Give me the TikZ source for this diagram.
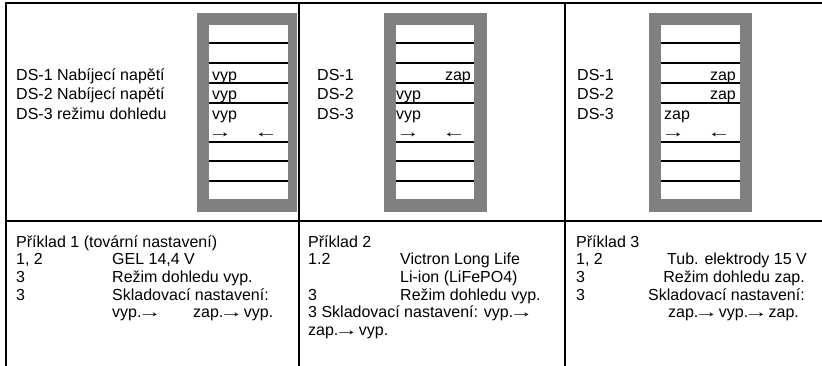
\documentclass[tikz,border=0pt]{standalone}
\usepackage{fontspec}
\usepackage{graphicx}
\setmainfont{Liberation Sans}
\newcommand{\rarr}{\makebox[1em][c]{\scalebox{1.5}[1]{→}}}
\newcommand{\larr}{\makebox[1em][c]{\scalebox{1.5}[1]{←}}}
\begin{document}
\begin{tikzpicture}[x=1pt,y=-1pt]
    \tikzstyle{txt}=[font=\fontsize{16}{18}\selectfont,inner sep=0pt,anchor=base west]
    \tikzstyle{txtr}=[txt,anchor=base east]
    \tikzstyle{grid}=[line width=2pt,black]
    \tikzstyle{rowline}=[line width=1.7pt,black]
    \useasboundingbox (0,0) rectangle (822,366);

    % table
    \draw[grid] (822,3) -- (5.8,3) -- (5.8,366);
    \draw[grid] (5.8,221) -- (822,221);
    \foreach \x in {299,564.5}
    \draw[grid] (\x,3) -- (\x,366);

    % switch blocks
    \foreach \a/\b/\c/\d in {197/209/288/297, 384/396/474/487, 649/661/740/752} {
    \fill[gray] (\a,13) rectangle (\d,212);
    \fill[white] (\b,25) rectangle (\c,199.5);
    \foreach \y in {43.3,63.3,83.3,102.7,141.7,161,181}
    \draw[rowline] (\b,\y) -- (\c,\y);
    }

    % top row
    \node[txt] (ds1-1) at (16,80.5) {DS-1 Nabíjecí napětí};
    \node[txt] (ds1-2) at (16,100) {DS-2 Nabíjecí napětí};
    \node[txt] (ds1-3) at (16,119.5) {DS-3 režimu dohledu};
    \foreach \x/\p in {317/2, 577/3}
    \foreach \k/\y in {1/80.5, 2/100, 3/119.5}
    \node[txt] (ds\p-\k) at (\x,\y) {DS-\k};

    \node[txt] (sw1-1) at (212,80.5) {vyp};
    \node[txt] (sw1-2) at (212,100) {vyp};
    \node[txt] (sw1-3) at (212,119.5) {vyp};
    \node[txtr] (sw2-1) at (471,80.5) {zap};
    \node[txt] (sw2-2) at (396,100) {vyp};
    \node[txt] (sw2-3) at (396,119.5) {vyp};
    \node[txtr] (sw3-1) at (736,80.5) {zap};
    \node[txtr] (sw3-2) at (736,100) {zap};
    \node[txt] (sw3-3) at (664,119.5) {zap};

    \foreach \p/\x in {1/212, 2/400, 3/665} {
    \node[txt] (on\p) at (\x,138) {\rarr};
    \node[txt] (off\p) at (\x+46,138) {\larr};
    }

    % bottom row
    \node[txt] (ex1) at (16,247.5) {Příklad 1 (tovární nastavení)};
    \node[txt] (ex1-a) at (16,265) {1, 2};
    \node[txt] (ex1-av) at (112,265) {GEL 14,4 V};
    \node[txt] (ex1-b) at (16,282.6) {3};
    \node[txt] (ex1-bv) at (112,282.6) {Režim dohledu vyp.};
    \node[txt] (ex1-c) at (16,300.2) {3};
    \node[txt] (ex1-cv) at (112,300.2) {Skladovací nastavení:};
    \node[txt] (ex1-d) at (112,317.8) {vyp.\rarr};
    \node[txt] (ex1-e) at (193,317.8) {zap.\rarr{} vyp.};

    \node[txt] (ex2) at (308,247.5) {Příklad 2};
    \node[txt] (ex2-a) at (308,265) {1.2};
    \node[txt] (ex2-av) at (400,265) {Victron Long Life};
    \node[txt] (ex2-aw) at (400,282.6) {Li-ion (LiFePO4)};
    \node[txt] (ex2-b) at (308,300.2) {3};
    \node[txt] (ex2-bv) at (400,300.2) {Režim dohledu vyp.};
    \node[txt] (ex2-c) at (308,317.8) {3 Skladovací nastavení: vyp.\rarr};
    \node[txt] (ex2-d) at (308,335.4) {zap.\rarr{} vyp.};

    \node[txt] (ex3) at (576,247.5) {Příklad 3};
    \node[txt] (ex3-a) at (576,265) {1, 2};
    \node[txtr] (ex3-av) at (807,265) {Tub. elektrody 15 V};
    \node[txt] (ex3-b) at (576,282.6) {3};
    \node[txtr] (ex3-bv) at (805,282.6) {Režim dohledu zap.};
    \node[txt] (ex3-c) at (576,300.2) {3};
    \node[txt] (ex3-cv) at (648,300.2) {Skladovací nastavení:};
    \node[txt] (ex3-d) at (668,317.8) {zap.\rarr{} vyp.\rarr{} zap.};
\end{tikzpicture}
\end{document}
